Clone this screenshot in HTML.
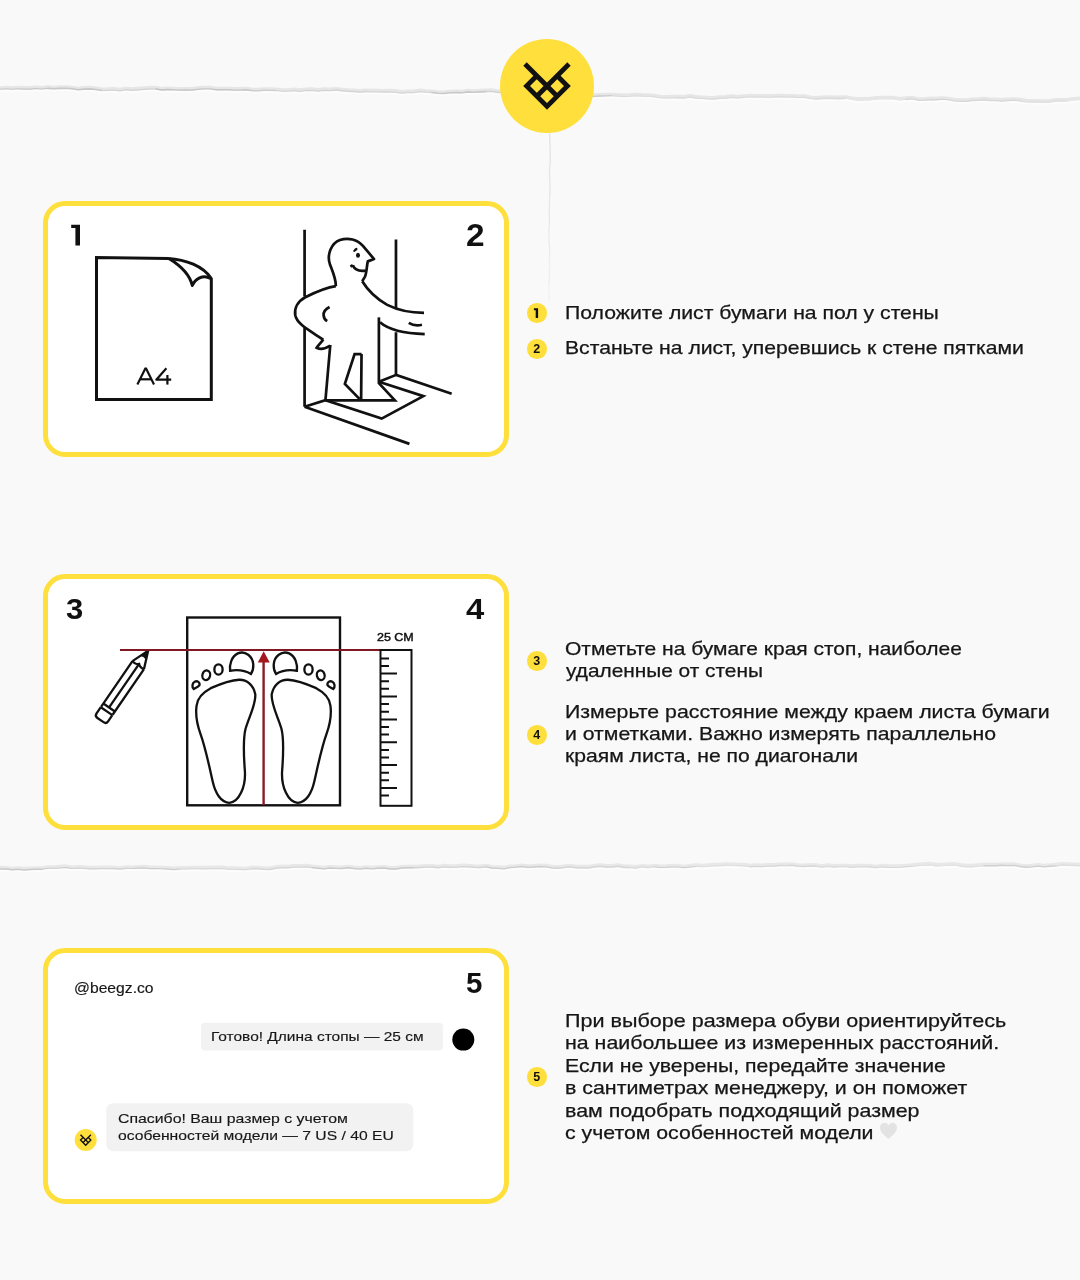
<!DOCTYPE html>
<html><head><meta charset="utf-8">
<style>
html,body{margin:0;padding:0;}
body{width:1080px;height:1280px;position:relative;overflow:hidden;background:#f9f9f9;font-family:"Liberation Sans",sans-serif;color:#161616;}
.abs{position:absolute;}
.card{position:absolute;left:43px;width:455.5px;height:246.3px;border:5.5px solid #fedf3c;border-radius:22px;background:#fff;}
.num{position:absolute;font-weight:bold;font-size:29.5px;line-height:30px;color:#111;transform-origin:0 0;}
.sm{position:absolute;font-size:13.4px;line-height:20px;white-space:nowrap;color:#161616;transform-origin:0 0;-webkit-text-stroke:0.15px #161616;}
.dot{position:absolute;width:19.5px;height:19.5px;border-radius:50%;background:#fedf3c;font-weight:bold;font-size:12.5px;line-height:20px;text-align:center;color:#111;}
.ln{position:absolute;font-size:17.8px;line-height:20px;white-space:nowrap;color:#161616;transform-origin:0 0;-webkit-text-stroke:0.25px #161616;}
svg.ov{position:absolute;left:0;top:0;}
.ln,.sm,.num,.dot,.abs{will-change:transform;}
</style></head>
<body>

<!--bg-->
<svg class="ov" width="1080" height="1280" viewBox="0 0 1080 1280">
<g fill="none" stroke-linejoin="round" stroke-linecap="round">
<polyline points="0,89.2 6,88.7 12,89.3 18,88.7 24,89.1 30,89.1 36,88.5 42,89.0 48,88.4 54,88.8 60,88.4 66,88.2 72,88.7 78,89.7 84,89.1 90,88.9 96,89.5 102,90.5 108,90.4 114,90.0 120,90.8 126,89.7 132,90.4 138,89.9 144,89.3 150,88.9 156,89.0 162,90.0 168,89.5 174,89.9 180,90.2 186,90.0 192,90.1 198,89.4 204,88.9 210,88.9 216,89.8 222,89.8 228,89.7 234,90.1 240,90.1 246,89.8 252,90.6 258,90.9 264,90.2 270,90.4 276,90.5 282,91.2 288,91.3 294,90.6 300,91.4 306,90.5 312,90.4 318,91.1 324,90.4 330,90.6 336,90.0 342,90.7 348,91.4 354,91.5 360,92.1 366,91.5 372,91.9 378,91.9 384,92.0 390,91.8 396,92.4 402,93.0 408,92.5 414,92.6 420,91.6 426,92.2 432,92.5 438,93.3 444,93.5 450,92.7 456,92.5 462,92.8 468,91.9 474,92.2 480,91.9 486,91.6 492,91.4 498,92.5 504,92.2 510,92.3 516,92.8 522,94.0 528,93.3 534,93.7 540,94.2 546,95.2 552,95.7 558,96.2 564,95.6 570,95.5 576,95.4 582,96.4 588,97.2 594,96.4 600,96.0 606,95.8 612,95.7 618,96.1 624,96.6 630,96.3 636,95.7 642,96.1 648,96.3 654,96.8 660,97.8 666,98.0 672,97.8 678,97.9 684,98.1 690,97.1 696,98.1 702,98.5 708,98.9 714,99.1 720,98.4 726,98.1 732,97.4 738,98.0 744,97.3 750,96.9 756,97.0 762,97.0 768,97.3 774,97.1 780,96.8 786,97.0 792,97.0 798,97.5 804,97.3 810,98.6 816,99.0 822,98.5 828,98.3 834,98.5 840,98.6 846,98.3 852,99.4 858,100.4 864,100.0 870,99.9 876,99.1 882,98.7 888,98.9 894,98.9 900,100.0 906,99.4 912,98.8 918,100.2 924,100.2 930,99.6 936,99.9 942,99.2 948,99.7 954,100.8 960,101.3 966,101.3 972,100.5 978,100.3 984,99.8 990,100.6 996,100.6 1002,101.1 1008,100.6 1014,100.2 1020,100.9 1026,101.7 1032,102.0 1038,102.1 1044,102.2 1050,102.1 1056,101.1 1062,101.1 1068,100.8 1074,100.0 1080,99.6" stroke="#e6e6e6" stroke-width="3.5" transform="translate(0,-1.3)"/>
<polyline points="0,89.2 6,88.7 12,89.3 18,88.7 24,89.1 30,89.1 36,88.5 42,89.0 48,88.4 54,88.8 60,88.4 66,88.2 72,88.7 78,89.7 84,89.1 90,88.9 96,89.5 102,90.5 108,90.4 114,90.0 120,90.8 126,89.7 132,90.4 138,89.9 144,89.3 150,88.9 156,89.0 162,90.0 168,89.5 174,89.9 180,90.2 186,90.0 192,90.1 198,89.4 204,88.9 210,88.9 216,89.8 222,89.8 228,89.7 234,90.1 240,90.1 246,89.8 252,90.6 258,90.9 264,90.2 270,90.4 276,90.5 282,91.2 288,91.3 294,90.6 300,91.4 306,90.5 312,90.4 318,91.1 324,90.4 330,90.6 336,90.0 342,90.7 348,91.4 354,91.5 360,92.1 366,91.5 372,91.9 378,91.9 384,92.0 390,91.8 396,92.4 402,93.0 408,92.5 414,92.6 420,91.6 426,92.2 432,92.5 438,93.3 444,93.5 450,92.7 456,92.5 462,92.8 468,91.9 474,92.2 480,91.9 486,91.6 492,91.4 498,92.5 504,92.2 510,92.3 516,92.8 522,94.0 528,93.3 534,93.7 540,94.2 546,95.2 552,95.7 558,96.2 564,95.6 570,95.5 576,95.4 582,96.4 588,97.2 594,96.4 600,96.0 606,95.8 612,95.7 618,96.1 624,96.6 630,96.3 636,95.7 642,96.1 648,96.3 654,96.8 660,97.8 666,98.0 672,97.8 678,97.9 684,98.1 690,97.1 696,98.1 702,98.5 708,98.9 714,99.1 720,98.4 726,98.1 732,97.4 738,98.0 744,97.3 750,96.9 756,97.0 762,97.0 768,97.3 774,97.1 780,96.8 786,97.0 792,97.0 798,97.5 804,97.3 810,98.6 816,99.0 822,98.5 828,98.3 834,98.5 840,98.6 846,98.3 852,99.4 858,100.4 864,100.0 870,99.9 876,99.1 882,98.7 888,98.9 894,98.9 900,100.0 906,99.4 912,98.8 918,100.2 924,100.2 930,99.6 936,99.9 942,99.2 948,99.7 954,100.8 960,101.3 966,101.3 972,100.5 978,100.3 984,99.8 990,100.6 996,100.6 1002,101.1 1008,100.6 1014,100.2 1020,100.9 1026,101.7 1032,102.0 1038,102.1 1044,102.2 1050,102.1 1056,101.1 1062,101.1 1068,100.8 1074,100.0 1080,99.6" stroke="#fdfdfd" stroke-width="1.6" transform="translate(0,1.7)"/>
<polyline points="0,89.2 6,88.7 12,89.3 18,88.7 24,89.1 30,89.1 36,88.5 42,89.0 48,88.4" stroke="rgb(199,199,199)" stroke-width="1.12"/>
<polyline points="48,88.4 54,88.8 60,88.4 66,88.2 72,88.7 78,89.7 84,89.1 90,88.9 96,89.5 102,90.5" stroke="rgb(200,200,200)" stroke-width="1.56"/>
<polyline points="102,90.5 108,90.4 114,90.0 120,90.8 126,89.7 132,90.4 138,89.9 144,89.3 150,88.9 156,89.0" stroke="rgb(211,211,211)" stroke-width="1.22"/>
<polyline points="156,89.0 162,90.0 168,89.5 174,89.9 180,90.2 186,90.0 192,90.1 198,89.4" stroke="rgb(195,195,195)" stroke-width="1.28"/>
<polyline points="198,89.4 204,88.9 210,88.9 216,89.8 222,89.8 228,89.7 234,90.1 240,90.1 246,89.8 252,90.6" stroke="rgb(198,198,198)" stroke-width="1.37"/>
<polyline points="252,90.6 258,90.9 264,90.2 270,90.4 276,90.5" stroke="rgb(205,205,205)" stroke-width="1.39"/>
<polyline points="276,90.5 282,91.2 288,91.3 294,90.6 300,91.4 306,90.5" stroke="rgb(213,213,213)" stroke-width="1.07"/>
<polyline points="306,90.5 312,90.4 318,91.1 324,90.4 330,90.6 336,90.0 342,90.7 348,91.4 354,91.5 360,92.1 366,91.5" stroke="rgb(212,212,212)" stroke-width="1.45"/>
<polyline points="366,91.5 372,91.9 378,91.9 384,92.0 390,91.8 396,92.4 402,93.0 408,92.5 414,92.6 420,91.6 426,92.2 432,92.5" stroke="rgb(216,216,216)" stroke-width="1.26"/>
<polyline points="432,92.5 438,93.3 444,93.5 450,92.7 456,92.5 462,92.8 468,91.9 474,92.2 480,91.9 486,91.6" stroke="rgb(201,201,201)" stroke-width="1.57"/>
<polyline points="486,91.6 492,91.4 498,92.5 504,92.2 510,92.3 516,92.8 522,94.0 528,93.3 534,93.7 540,94.2 546,95.2" stroke="rgb(210,210,210)" stroke-width="1.45"/>
<polyline points="546,95.2 552,95.7 558,96.2 564,95.6 570,95.5 576,95.4" stroke="rgb(217,217,217)" stroke-width="1.10"/>
<polyline points="576,95.4 582,96.4 588,97.2 594,96.4 600,96.0 606,95.8 612,95.7" stroke="rgb(203,203,203)" stroke-width="1.35"/>
<polyline points="612,95.7 618,96.1 624,96.6 630,96.3 636,95.7 642,96.1 648,96.3 654,96.8 660,97.8 666,98.0 672,97.8 678,97.9" stroke="rgb(220,220,220)" stroke-width="1.09"/>
<polyline points="678,97.9 684,98.1 690,97.1 696,98.1 702,98.5 708,98.9 714,99.1 720,98.4 726,98.1 732,97.4 738,98.0 744,97.3" stroke="rgb(218,218,218)" stroke-width="1.21"/>
<polyline points="744,97.3 750,96.9 756,97.0 762,97.0 768,97.3 774,97.1 780,96.8 786,97.0 792,97.0 798,97.5 804,97.3 810,98.6 816,99.0" stroke="rgb(218,218,218)" stroke-width="1.01"/>
<polyline points="816,99.0 822,98.5 828,98.3 834,98.5 840,98.6 846,98.3" stroke="rgb(219,219,219)" stroke-width="1.56"/>
<polyline points="846,98.3 852,99.4 858,100.4 864,100.0 870,99.9 876,99.1 882,98.7 888,98.9 894,98.9 900,100.0 906,99.4" stroke="rgb(229,229,229)" stroke-width="1.12"/>
<polyline points="906,99.4 912,98.8 918,100.2 924,100.2 930,99.6 936,99.9 942,99.2 948,99.7" stroke="rgb(211,211,211)" stroke-width="1.13"/>
<polyline points="948,99.7 954,100.8 960,101.3 966,101.3 972,100.5 978,100.3 984,99.8 990,100.6 996,100.6 1002,101.1 1008,100.6 1014,100.2 1020,100.9" stroke="rgb(216,216,216)" stroke-width="1.35"/>
<polyline points="1020,100.9 1026,101.7 1032,102.0 1038,102.1 1044,102.2 1050,102.1 1056,101.1 1062,101.1 1068,100.8" stroke="rgb(224,224,224)" stroke-width="1.50"/>
<polyline points="1068,100.8 1074,100.0 1080,99.6" stroke="rgb(232,232,232)" stroke-width="1.21"/>
<polyline points="0,868.9 6,869.1 12,869.8 18,869.3 24,869.9 30,869.5 36,869.3 42,869.2 48,868.2 54,868.3 60,867.9 66,867.4 72,868.5 78,868.0 84,868.3 90,868.8 96,868.9 102,868.5 108,868.6 114,868.7 120,869.2 126,868.3 132,868.5 138,868.1 144,867.9 150,868.6 156,868.6 162,868.7 168,869.1 174,869.6 180,869.0 186,869.0 192,868.8 198,868.7 204,868.9 210,868.6 216,868.6 222,868.5 228,869.2 234,869.2 240,869.5 246,869.8 252,868.8 258,868.7 264,869.3 270,869.5 276,868.3 282,867.6 288,867.7 294,867.1 300,867.1 306,866.7 312,867.6 318,868.3 324,868.9 330,868.0 336,868.4 342,868.5 348,867.7 354,868.5 360,869.1 366,868.2 372,868.9 378,868.3 384,868.1 390,868.9 396,869.1 402,868.0 408,867.8 414,867.8 420,867.5 426,867.1 432,867.0 438,867.7 444,866.9 450,867.3 456,867.4 462,866.6 468,866.7 474,867.3 480,867.5 486,866.8 492,868.0 498,868.3 504,868.9 510,867.6 516,867.2 522,866.5 528,867.4 534,867.0 540,866.5 546,866.8 552,867.8 558,868.2 564,867.5 570,866.8 576,867.8 582,867.7 588,867.9 594,867.0 600,866.3 606,867.0 612,867.0 618,866.3 624,867.5 630,867.6 636,868.0 642,866.9 648,867.7 654,866.7 660,867.5 666,867.3 672,866.9 678,867.1 684,867.8 690,867.1 696,866.4 702,866.7 708,866.4 714,865.9 720,865.7 726,865.4 732,865.5 738,865.7 744,865.8 750,866.7 756,866.4 762,866.6 768,866.1 774,866.1 780,865.5 786,865.6 792,865.2 798,866.2 804,866.5 810,866.0 816,866.3 822,867.2 828,866.3 834,867.0 840,866.7 846,866.7 852,867.3 858,866.8 864,866.7 870,867.0 876,867.7 882,866.9 888,867.4 894,867.4 900,867.3 906,866.8 912,866.4 918,865.6 924,865.2 930,864.9 936,865.9 942,865.7 948,865.3 954,865.0 960,866.1 966,866.9 972,866.9 978,866.3 984,865.8 990,865.6 996,865.8 1002,865.3 1008,865.6 1014,865.4 1020,866.5 1026,867.2 1032,866.9 1038,866.1 1044,866.9 1050,866.2 1056,865.9 1062,865.1 1068,865.2 1074,865.5 1080,865.7" stroke="#e8e8e8" stroke-width="3.5" transform="translate(0,-1.3)"/>
<polyline points="0,868.9 6,869.1 12,869.8 18,869.3 24,869.9 30,869.5 36,869.3 42,869.2 48,868.2 54,868.3 60,867.9 66,867.4 72,868.5 78,868.0 84,868.3 90,868.8 96,868.9 102,868.5 108,868.6 114,868.7 120,869.2 126,868.3 132,868.5 138,868.1 144,867.9 150,868.6 156,868.6 162,868.7 168,869.1 174,869.6 180,869.0 186,869.0 192,868.8 198,868.7 204,868.9 210,868.6 216,868.6 222,868.5 228,869.2 234,869.2 240,869.5 246,869.8 252,868.8 258,868.7 264,869.3 270,869.5 276,868.3 282,867.6 288,867.7 294,867.1 300,867.1 306,866.7 312,867.6 318,868.3 324,868.9 330,868.0 336,868.4 342,868.5 348,867.7 354,868.5 360,869.1 366,868.2 372,868.9 378,868.3 384,868.1 390,868.9 396,869.1 402,868.0 408,867.8 414,867.8 420,867.5 426,867.1 432,867.0 438,867.7 444,866.9 450,867.3 456,867.4 462,866.6 468,866.7 474,867.3 480,867.5 486,866.8 492,868.0 498,868.3 504,868.9 510,867.6 516,867.2 522,866.5 528,867.4 534,867.0 540,866.5 546,866.8 552,867.8 558,868.2 564,867.5 570,866.8 576,867.8 582,867.7 588,867.9 594,867.0 600,866.3 606,867.0 612,867.0 618,866.3 624,867.5 630,867.6 636,868.0 642,866.9 648,867.7 654,866.7 660,867.5 666,867.3 672,866.9 678,867.1 684,867.8 690,867.1 696,866.4 702,866.7 708,866.4 714,865.9 720,865.7 726,865.4 732,865.5 738,865.7 744,865.8 750,866.7 756,866.4 762,866.6 768,866.1 774,866.1 780,865.5 786,865.6 792,865.2 798,866.2 804,866.5 810,866.0 816,866.3 822,867.2 828,866.3 834,867.0 840,866.7 846,866.7 852,867.3 858,866.8 864,866.7 870,867.0 876,867.7 882,866.9 888,867.4 894,867.4 900,867.3 906,866.8 912,866.4 918,865.6 924,865.2 930,864.9 936,865.9 942,865.7 948,865.3 954,865.0 960,866.1 966,866.9 972,866.9 978,866.3 984,865.8 990,865.6 996,865.8 1002,865.3 1008,865.6 1014,865.4 1020,866.5 1026,867.2 1032,866.9 1038,866.1 1044,866.9 1050,866.2 1056,865.9 1062,865.1 1068,865.2 1074,865.5 1080,865.7" stroke="#fdfdfd" stroke-width="1.6" transform="translate(0,1.7)"/>
<polyline points="0,868.9 6,869.1 12,869.8 18,869.3 24,869.9 30,869.5 36,869.3 42,869.2" stroke="rgb(202,202,202)" stroke-width="1.47"/>
<polyline points="42,869.2 48,868.2 54,868.3 60,867.9 66,867.4 72,868.5" stroke="rgb(203,203,203)" stroke-width="1.05"/>
<polyline points="72,868.5 78,868.0 84,868.3 90,868.8 96,868.9 102,868.5 108,868.6 114,868.7 120,869.2 126,868.3 132,868.5" stroke="rgb(210,210,210)" stroke-width="1.24"/>
<polyline points="132,868.5 138,868.1 144,867.9 150,868.6 156,868.6 162,868.7 168,869.1 174,869.6 180,869.0" stroke="rgb(205,205,205)" stroke-width="1.14"/>
<polyline points="180,869.0 186,869.0 192,868.8 198,868.7 204,868.9 210,868.6 216,868.6 222,868.5 228,869.2 234,869.2 240,869.5 246,869.8 252,868.8" stroke="rgb(216,216,216)" stroke-width="1.09"/>
<polyline points="252,868.8 258,868.7 264,869.3 270,869.5 276,868.3 282,867.6 288,867.7 294,867.1 300,867.1 306,866.7 312,867.6" stroke="rgb(215,215,215)" stroke-width="1.43"/>
<polyline points="312,867.6 318,868.3 324,868.9 330,868.0 336,868.4 342,868.5 348,867.7 354,868.5 360,869.1 366,868.2 372,868.9 378,868.3" stroke="rgb(203,203,203)" stroke-width="1.43"/>
<polyline points="378,868.3 384,868.1 390,868.9 396,869.1 402,868.0 408,867.8 414,867.8" stroke="rgb(202,202,202)" stroke-width="1.50"/>
<polyline points="414,867.8 420,867.5 426,867.1 432,867.0 438,867.7 444,866.9 450,867.3 456,867.4 462,866.6 468,866.7 474,867.3 480,867.5 486,866.8" stroke="rgb(214,214,214)" stroke-width="1.44"/>
<polyline points="486,866.8 492,868.0 498,868.3 504,868.9 510,867.6 516,867.2 522,866.5 528,867.4 534,867.0 540,866.5 546,866.8 552,867.8 558,868.2" stroke="rgb(205,205,205)" stroke-width="1.31"/>
<polyline points="558,868.2 564,867.5 570,866.8 576,867.8 582,867.7 588,867.9 594,867.0 600,866.3 606,867.0 612,867.0 618,866.3 624,867.5 630,867.6" stroke="rgb(214,214,214)" stroke-width="1.49"/>
<polyline points="630,867.6 636,868.0 642,866.9 648,867.7 654,866.7" stroke="rgb(220,220,220)" stroke-width="1.35"/>
<polyline points="654,866.7 660,867.5 666,867.3 672,866.9 678,867.1 684,867.8 690,867.1 696,866.4" stroke="rgb(205,205,205)" stroke-width="1.03"/>
<polyline points="696,866.4 702,866.7 708,866.4 714,865.9 720,865.7 726,865.4 732,865.5 738,865.7 744,865.8 750,866.7" stroke="rgb(223,223,223)" stroke-width="1.23"/>
<polyline points="750,866.7 756,866.4 762,866.6 768,866.1 774,866.1 780,865.5 786,865.6 792,865.2 798,866.2 804,866.5 810,866.0 816,866.3" stroke="rgb(216,216,216)" stroke-width="1.38"/>
<polyline points="816,866.3 822,867.2 828,866.3 834,867.0 840,866.7 846,866.7 852,867.3 858,866.8 864,866.7 870,867.0 876,867.7 882,866.9 888,867.4" stroke="rgb(219,219,219)" stroke-width="1.29"/>
<polyline points="888,867.4 894,867.4 900,867.3 906,866.8 912,866.4" stroke="rgb(215,215,215)" stroke-width="1.04"/>
<polyline points="912,866.4 918,865.6 924,865.2 930,864.9 936,865.9 942,865.7 948,865.3 954,865.0 960,866.1 966,866.9 972,866.9 978,866.3 984,865.8" stroke="rgb(224,224,224)" stroke-width="1.06"/>
<polyline points="984,865.8 990,865.6 996,865.8 1002,865.3 1008,865.6 1014,865.4 1020,866.5 1026,867.2 1032,866.9 1038,866.1 1044,866.9 1050,866.2 1056,865.9" stroke="rgb(208,208,208)" stroke-width="1.44"/>
<polyline points="1056,865.9 1062,865.1 1068,865.2 1074,865.5 1080,865.7" stroke="rgb(223,223,223)" stroke-width="1.51"/>
<polyline points="549.6,133 549.8,139 550.0,145 550.2,151 550.2,157 550.3,163" stroke="#e3e3e3" stroke-width="1.3"/>
<polyline points="550.3,163 549.5,169 549.5,175 549.9,181 549.9,187 550.1,193" stroke="#e5e5e5" stroke-width="1.3"/>
<polyline points="550.1,193 549.5,199 549.5,205 549.2,211 549.4,217 549.5,223" stroke="#e7e7e7" stroke-width="1.3"/>
<polyline points="549.5,223 549.0,229 548.9,235 548.9,241 549.6,247 549.8,253" stroke="#eaeaea" stroke-width="1.3"/>
<polyline points="549.8,253 549.3,259 549.7,265 549.3,271 549.5,277 549.1,283" stroke="#eeeeee" stroke-width="1.3"/>
<polyline points="549.1,283 548.8,289 549.4,295 549.2,301" stroke="#f2f2f2" stroke-width="1.3"/>
</g>
</svg>
<!--/bg-->
<div class="card" style="top:200.5px"></div>
<div class="card" style="top:574px"></div>
<div class="card" style="top:948px"></div>

<svg class="ov" width="1080" height="1280" viewBox="0 0 1080 1280">
<!-- logo -->
<circle cx="547" cy="86" r="47" fill="#fedf3c"/>
<g fill="none" stroke="#111" stroke-width="4.8" stroke-linejoin="miter" stroke-linecap="butt">
<path d="M536.8 75.8 L526.6 86 L547 106.4 L567.4 86 L557.2 75.8"/>
<path d="M525 64 L557.2 96.2"/>
<path d="M569 64 L536.8 96.2"/>
</g>

<!-- card1: A4 paper -->
<g fill="none" stroke="#111" stroke-width="3" stroke-linejoin="round">
<path d="M168.5 258.6 L96.5 257.6 L96.5 399.5 L211.3 399.5 L211.3 278" stroke-linejoin="miter"/>
<path d="M168 258.4 C186 259.5 203 266 211.3 278.5"/>
<path d="M169.3 258.8 C181 266 190 276 192.3 285.5 C195 279 203 274 210.5 278.5"/>
</g>

<!-- card1: man in door (zoom scale 7.2, origin 290,225) -->
<g transform="translate(290,225) scale(0.138889)" fill="none" stroke="#111" stroke-width="19.5" stroke-linejoin="round" stroke-linecap="butt">
<!-- posts -->
<path d="M105 35 V515 M105 740 V1309"/>
<path d="M763 105 V600 M763 772 V1079"/>
<!-- head -->
<path d="M330 440 C332 390 305 330 288 285 C262 210 300 130 360 108 C420 88 485 105 525 150 L605 245 L560 262 C552 300 552 345 540 372 L520 405"/>
<!-- left shoulder / elbow / lower arm -->
<path d="M330 440 C270 448 200 475 110 520 C55 550 30 600 38 650 C48 700 100 735 170 780 C200 800 225 815 240 826"/>
<!-- arm top right -->
<path d="M520 405 C560 470 620 530 700 575 C760 605 860 632 965 632"/>
<!-- arm bottom right -->
<path d="M648 700 C700 745 790 780 970 785"/>
<!-- hand fingers -->
<path d="M855 705 C880 720 920 725 950 718"/>
<!-- leg right line -->
<path d="M640 665 V1144"/>
<!-- chest arc -->
<path d="M285 590 C255 605 240 630 242 650 C244 670 255 685 268 692"/>
<!-- eyebrow -->
<!-- smile -->
<path d="M435 300 L452 290 M452 290 C465 320 500 335 545 328"/>
</g>
<ellipse cx="358" cy="255.3" rx="2" ry="2.5" fill="#111"/>
<ellipse cx="355.4" cy="249.9" rx="2.6" ry="1.3" transform="rotate(-42 355.4 249.9)" fill="#111"/>
<g transform="translate(290,320) scale(0.138889)" fill="none" stroke="#111" stroke-width="19.5" stroke-linejoin="miter" stroke-linecap="butt">
<!-- hand on hip -->
<path d="M240 142 C225 160 205 180 192 200 C215 212 250 210 290 185"/>
<!-- left leg -->
<path d="M290 180 L255 578"/>
<!-- inner leg -->
<path d="M515 245 L465 245 L395 460 L500 568 M515 245 L512 578"/>
<!-- right foot front -->
<path d="M640 455 L755 578 L255 578"/>
<!-- floor -->
<path d="M105 625 L255 578 L660 710 L960 548 L640 445"/>
<path d="M640 445 L765 395 L1164 531"/>
<path d="M105 625 L860 892"/>
</g>

<!-- card 2: pencil -->
<g transform="translate(148.2,650.6) rotate(-55.5)" fill="none" stroke="#111" stroke-width="2.3" stroke-linejoin="round">
<path d="M0 0 L-8.2 -3.2 Q-7 0 -8.2 3.2 Z" fill="#111" stroke-width="1"/>
<path d="M-17.6 -7 L0 0 L-17.6 7"/>
<path d="M-17.6 -7 C-18.8 -4 -17.5 -1 -16 0 C-17.5 1 -18.8 4 -17.6 7"/>
<path d="M-17.6 -7 L-73 -7 M-17.6 7 L-73 7 M-16 0 L-69 0"/>
<path d="M-69 -7 L-69 7 M-73.5 -7 L-73.5 7"/>
<path d="M-73.5 -7 L-81 -7 Q-84.3 -7 -84.3 -3.7 L-84.3 3.7 Q-84.3 7 -81 7 L-73.5 7"/>
</g>

<!-- card 2: paper -->
<rect x="187.2" y="617.5" width="152.8" height="187.8" fill="none" stroke="#111" stroke-width="2.4"/>

<!-- feet (left foot zoom scale 7.7625 origin 185,645) -->
<g id="lfoot" transform="translate(185,645) scale(0.128824)" fill="none" stroke="#111" stroke-width="18">
<path d="M200 335 C280 300 350 274 420 270 C480 268 530 310 545 380 C555 450 500 550 470 650 C450 730 455 850 465 980 C472 1100 420 1220 345 1225 C280 1225 235 1150 215 1060 C190 950 160 800 120 690 C95 620 80 540 90 470 C95 420 125 375 200 335 Z"/>
<path d="M350 200 C345 150 360 90 410 65 C470 40 525 90 530 150 C532 180 522 210 512 225 C470 200 410 190 350 200 Z"/>
<ellipse cx="260" cy="190" rx="32" ry="40"/>
<ellipse cx="165" cy="235" rx="30" ry="38" transform="rotate(15 165 235)"/>
<path d="M68 342 C52 325 55 295 75 285 C95 275 118 290 112 312 C100 325 80 335 68 342 Z"/>
</g>
<g transform="translate(527,0) scale(-1,1)">
<g transform="translate(185,645) scale(0.128824)" fill="none" stroke="#111" stroke-width="18">
<path d="M200 335 C280 300 350 274 420 270 C480 268 530 310 545 380 C555 450 500 550 470 650 C450 730 455 850 465 980 C472 1100 420 1220 345 1225 C280 1225 235 1150 215 1060 C190 950 160 800 120 690 C95 620 80 540 90 470 C95 420 125 375 200 335 Z"/>
<path d="M350 200 C345 150 360 90 410 65 C470 40 525 90 530 150 C532 180 522 210 512 225 C470 200 410 190 350 200 Z"/>
<ellipse cx="260" cy="190" rx="32" ry="40"/>
<ellipse cx="165" cy="235" rx="30" ry="38" transform="rotate(15 165 235)"/>
<path d="M68 342 C52 325 55 295 75 285 C95 275 118 290 112 312 C100 325 80 335 68 342 Z"/>
</g>
</g>

<!-- red lines -->
<g fill="none">
<path d="M120 650 H380" stroke="#7f1820" stroke-width="2.2"/>
<path d="M263.6 805 V660" stroke="#8c1c27" stroke-width="2.4"/>
</g>
<path d="M263.7 651.3 L257.8 662.5 L269.7 662.5 Z" fill="#a3171f"/>

<!-- ruler -->
<g fill="none" stroke="#111" stroke-width="2">
<rect x="380.5" y="650" width="31" height="155.8"/>
<path d="M380 658.4 h9 M380 666 h9 M380 673.5 h17 M380 681.2 h9 M380 688.8 h9 M380 696.4 h17 M380 704.1 h9 M380 711.7 h9 M380 719.5 h17 M380 727.1 h9 M380 734.6 h9 M380 742.2 h17 M380 749.9 h9 M380 757.5 h9 M380 765.1 h17 M380 772.7 h9 M380 780.3 h9 M380 788 h17 M380 795.6 h9"/>
</g>

<!-- chat bubbles -->
<rect x="201" y="1022.8" width="242" height="27.6" rx="4" fill="#f2f2f2"/>
<circle cx="463.3" cy="1039.6" r="11" fill="#000"/>
<rect x="106.3" y="1103.2" width="307" height="48" rx="7" fill="#f2f2f2"/>
<circle cx="85.7" cy="1140" r="11" fill="#fedf3c"/>
<g fill="none" stroke="#111" stroke-width="1.35">
<path d="M83.1 1137.4 L80.5 1140 L85.7 1145.2 L90.9 1140 L88.3 1137.4"/>
<path d="M80.5 1134.8 L88.3 1142.6"/>
<path d="M90.9 1134.8 L83.1 1142.6"/>
</g>

<!-- A4 -->
<g fill="none" stroke="#111" stroke-width="2.2" stroke-linejoin="miter" stroke-linecap="butt">
<path d="M137.4 384.6 L145.3 368.6 L146.1 368.6 L154 384.6"/>
<path d="M140.4 379.3 H151"/>
<path d="M166.4 368.3 L156.3 379.7 H171.2" stroke-linejoin="round"/>
<path d="M167.4 375 V384.6"/>
</g>
<!-- big 1 -->
<path d="M71.2 224.7 H80 V245.6 H75.4 V228 H71.2 Z" fill="#111"/>
<!-- heart -->
<path d="M888.5 1139 C884 1135 880 1132 880 1127.5 C880 1124.5 882.3 1122.8 884.5 1122.8 C886.5 1122.8 888 1124 888.5 1125.5 C889 1124 890.5 1122.8 892.5 1122.8 C894.7 1122.8 897 1124.5 897 1127.5 C897 1132 893 1135 888.5 1139 Z" fill="#e3e3e3"/>
</svg>

<div class="abs" style="left:377.4px;top:627.3px;font-size:11.5px;line-height:20px;transform:scaleX(1.085);transform-origin:0 0;color:#111;-webkit-text-stroke:0.45px #111">25 CM</div>

<div class="num" style="left:465.8px;top:221.3px;font-size:31.1px;transform:scaleX(1.073)">2</div>
<div class="num" style="left:65.5px;top:594.4px;font-size:29.35px;transform:scaleX(1.057)">3</div>
<div class="num" style="left:465.7px;top:594.1px;font-size:29.2px;transform:scaleX(1.125)">4</div>
<div class="num" style="left:465.9px;top:968.3px;font-size:29.5px;transform:scaleX(0.987)">5</div>

<div class="dot" style="left:527.3px;top:302.7px"><svg width="19.5" height="19.5" viewBox="527.3 302.7 19.5 19.5" style="position:absolute;left:0;top:0"><path d="M534.2 307.9 H538.4 V317.6 H536 V309.9 H534.2 Z" fill="#111"/></svg></div>
<div class="dot" style="left:527.3px;top:339.3px">2</div>
<div class="dot" style="left:527.3px;top:651px">3</div>
<div class="dot" style="left:527.3px;top:725.3px">4</div>
<div class="dot" style="left:527.3px;top:1067px">5</div>

<div class="ln" style="left:565.1px;top:302.9px;transform:scaleX(1.1920)">Положите лист бумаги на пол у стены</div>
<div class="ln" style="left:565.1px;top:338.4px;transform:scaleX(1.1898)">Встаньте на лист, уперевшись к стене пятками</div>
<div class="ln" style="left:565.1px;top:639.2px;transform:scaleX(1.1800)">Отметьте на бумаге края стоп, наиболее</div>
<div class="ln" style="left:566.3px;top:661.3px;transform:scaleX(1.1719)">удаленные от стены</div>
<div class="ln" style="left:565.1px;top:701.7px;transform:scaleX(1.1973)">Измерьте расстояние между краем листа бумаги</div>
<div class="ln" style="left:565.1px;top:723.9px;transform:scaleX(1.1936)">и отметками. Важно измерять параллельно</div>
<div class="ln" style="left:565.1px;top:745.5px;transform:scaleX(1.1886)">краям листа, не по диагонали</div>
<div class="ln" style="left:565.1px;top:1010.7px;transform:scaleX(1.2119)">При выборе размера обуви ориентируйтесь</div>
<div class="ln" style="left:565.1px;top:1033.3px;transform:scaleX(1.2011)">на наибольшее из измеренных расстояний.</div>
<div class="ln" style="left:565.1px;top:1055.8px;transform:scaleX(1.1946)">Если не уверены, передайте значение</div>
<div class="ln" style="left:565.1px;top:1078.2px;transform:scaleX(1.2012)">в сантиметрах менеджеру, и он поможет</div>
<div class="ln" style="left:565.1px;top:1100.8px;transform:scaleX(1.2038)">вам подобрать подходящий размер</div>
<div class="ln" style="left:565.1px;top:1123.0px;transform:scaleX(1.1961)">с учетом особенностей модели</div>

<div class="sm" style="left:73.7px;top:978.9px;font-size:13.8px;transform:scaleX(1.1368)">@beegz.co</div>
<div class="sm" style="left:210.5px;top:1027.0px;transform:scaleX(1.1549)">Готово! Длина стопы — 25 см</div>
<div class="sm" style="left:117.7px;top:1109.1px;transform:scaleX(1.1824)">Спасибо! Ваш размер с учетом</div>
<div class="sm" style="left:117.7px;top:1125.7px;transform:scaleX(1.1697)">особенностей модели — 7 US / 40 EU</div>

</body></html>
